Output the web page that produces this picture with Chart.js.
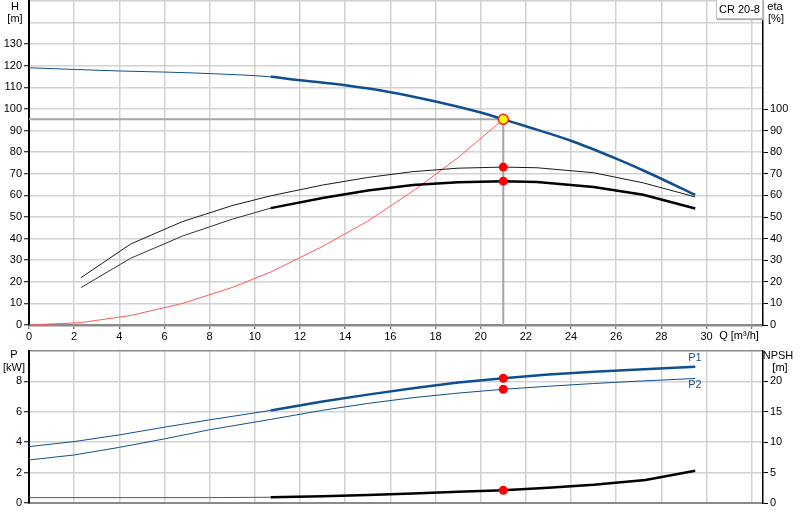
<!DOCTYPE html>
<html>
<head>
<meta charset="utf-8">
<script src="https://cdn.jsdelivr.net/npm/chart.js@4.4.0/dist/chart.umd.min.js"></script>
<style>
  html, body { margin: 0; padding: 0; background: #fff; }
  #wrap { position: relative; width: 800px; height: 520px; overflow: hidden; font-family: "Liberation Sans", Arial, sans-serif; font-size: 11px; color: #000; }
  canvas { position: absolute; left: 0; }
  .lbl { position: absolute; transform: translate(-50%, -50%); white-space: nowrap; line-height: 1; }
  #legend { position: absolute; left: 716px; top: -1px; width: 45px; height: 18px; border: 1px solid #c0c0c0; background: #fff; box-shadow: 1px 1px 1px #b0b0b0; font-size: 11px; line-height: 18px; text-align: center; }
</style>
</head>
<body>
<div id="wrap">
  <canvas id="top" width="800" height="345" style="top:0"></canvas>
  <canvas id="bot" width="800" height="175" style="top:345px"></canvas>
  <div id="legend">CR 20-8</div>
  <div class="lbl" style="left:15px;top:6px">H</div>
  <div class="lbl" style="left:15px;top:18px">[m]</div>
  <div class="lbl" style="left:775px;top:6px">eta</div>
  <div class="lbl" style="left:776px;top:18px">[%]</div>
  <div class="lbl" style="left:739px;top:335px">Q [m³/h]</div>
  <div class="lbl" style="left:14px;top:354px">P</div>
  <div class="lbl" style="left:14px;top:367px">[kW]</div>
  <div class="lbl" style="left:778px;top:355px">NPSH</div>
  <div class="lbl" style="left:780px;top:367px">[m]</div>
  <div class="lbl" style="left:695px;top:357px;color:#1a4f8c">P1</div>
  <div class="lbl" style="left:695px;top:384px;color:#1a4f8c">P2</div>
</div>
<script>
// ---------- data ----------
const Q_H   = [0, 2, 4, 6, 8, 10.7, 12, 14, 16, 18, 20, 21, 22, 24, 26, 27.4, 29.5];
const H     = [119.1, 118.3, 117.6, 117.1, 116.4, 114.9, 113.3, 111.0, 107.8, 103.5, 98.4, 95.2, 92.0, 85.3, 77.0, 70.6, 60.2];

const Q_ETA     = [2.3, 4.5, 6.8, 9.0, 10.7, 13.0, 15.0, 17.0, 19.0, 21.0, 22.5, 25.0, 27.2, 29.5];
const ETA_PUMP  = [21.9, 37.5, 47.9, 55.3, 59.8, 64.8, 68.3, 71.0, 72.6, 73.1, 72.8, 70.5, 65.8, 59.3];
const ETA_TOTAL = [17.3, 30.9, 41.2, 49.0, 54.1, 58.8, 62.3, 64.8, 66.1, 66.6, 66.2, 63.9, 60.3, 53.9];

const Q_SYS = [0, 2.3, 4.5, 6.8, 9.0, 10.7, 13.0, 15.0, 17.0, 19.0, 21.0];
const H_SYS = [0, 1.1, 4.4, 10.0, 17.4, 24.5, 36.4, 48.1, 62.0, 77.5, 95.2];

const Q_P = [0, 2, 4, 6, 8, 10.7, 13, 15, 17, 19, 21, 23, 25, 27, 29.5];
const P1  = [3.71, 4.04, 4.48, 4.99, 5.47, 6.09, 6.68, 7.13, 7.55, 7.92, 8.21, 8.45, 8.63, 8.79, 8.96];
const P2  = [2.83, 3.16, 3.66, 4.22, 4.82, 5.50, 6.10, 6.55, 6.93, 7.23, 7.48, 7.68, 7.86, 8.02, 8.19];

const Q_NPSH = [0, 2, 4, 6, 8, 10.7, 13, 15, 17, 19, 21, 23, 25, 27.3, 29.5];
const NPSH   = [0.88, 0.88, 0.88, 0.88, 0.88, 0.95, 1.1, 1.3, 1.55, 1.85, 2.1, 2.5, 3.0, 3.8, 5.3];

const OP_Q    = [21];
const OP_H    = [95.2];
const OP_ETA  = [73.1, 66.6];
const OP_P    = [8.21, 7.48];
const OP_NPSH = [2.1];
const CROSS_Q = [0, 21, 21];
const CROSS_H = [95.2, 95.2, 0];

const Q_TICKS    = [0, 2, 4, 6, 8, 10, 12, 14, 16, 18, 20, 22, 24, 26, 28, 30, 32];
const Q_LABELS   = ['0','2','4','6','8','10','12','14','16','18','20','22','24','26','28','30',''];
const H_TICKS    = [0, 10, 20, 30, 40, 50, 60, 70, 80, 90, 100, 110, 120, 130, 140, 150];
const H_LABELS   = ['0','10','20','30','40','50','60','70','80','90','100','110','120','130','',''];
const ETA_TICKS  = [0, 10, 20, 30, 40, 50, 60, 70, 80, 90, 100];
const P_TICKS    = [0, 2, 4, 6, 8, 10];
const P_LABELS   = ['0','2','4','6','8',''];
const NPSH_TICKS = [0, 5, 10, 15, 20];

// ---------- helpers ----------
const xy = (xs, ys) => xs.map((x, i) => ({ x: x, y: ys[i] }));
const setTicks = (vals) => (s) => { s.ticks = vals.map(v => ({ value: v })); };
const fitY = (w) => (s) => { s.width = w; s.paddingTop = 0; s.paddingBottom = 0; };
const fitX = (h) => (s) => { s.height = h; s.paddingLeft = 0; s.paddingRight = 0; };
const BLUE = '#0f4f8f';
const GRID = '#d2d2d2';
const REC = 10.7;
const thickFrom = (thin, thick) => (ctx) => (ctx.p0.parsed.x >= REC - 1e-6 ? thick : thin);

Chart.defaults.font.family = '"Liberation Sans", Arial, sans-serif';
Chart.defaults.font.size = 11;
Chart.defaults.color = '#000';

const commonPlugins = { legend: { display: false }, tooltip: { enabled: false } };

const lineDs = (data, extra) => Object.assign({
  type: 'line', data: data, showLine: true, pointRadius: 0, fill: false,
  tension: 0, clip: false
}, extra);
const dotDs = (data, extra) => Object.assign({
  type: 'scatter', data: data, showLine: false, pointRadius: 4.5, pointHoverRadius: 4.5,
  pointBackgroundColor: '#ff0000', pointBorderWidth: 0, order: 0, clip: false
}, extra);

// ---------- top chart ----------
new Chart(document.getElementById('top'), {
  type: 'scatter',
  data: {
    datasets: [
      dotDs([{ x: OP_Q[0], y: OP_H[0] }], { pointRadius: 5, pointHoverRadius: 5, pointBackgroundColor: '#ffff00', pointBorderColor: '#ff2020', pointBorderWidth: 1.5, order: 0 }),
      dotDs(OP_ETA.map(v => ({ x: OP_Q[0], y: v })), { order: 0 }),
      lineDs(xy(Q_H, H), { borderColor: BLUE, order: 2, cubicInterpolationMode: 'monotone', segment: { borderWidth: thickFrom(1, 2.5) } }),
      lineDs(xy(Q_ETA, ETA_PUMP), { borderColor: '#1a1a1a', borderWidth: 1, order: 3 }),
      lineDs(xy(Q_ETA, ETA_TOTAL), { borderColor: '#000', order: 3, segment: { borderWidth: thickFrom(1, 2.5), borderColor: thickFrom('#333', '#000') } }),
      lineDs(xy(Q_SYS, H_SYS), { borderColor: '#ff5a5a', borderWidth: 1, order: 4 }),
      lineDs(xy(CROSS_Q, CROSS_H), { borderColor: '#a6a6a6', borderWidth: 2, order: 9 })
    ]
  },
  options: {
    responsive: false, animation: false, events: [],
    layout: { autoPadding: false, padding: { top: 1, left: 0, right: 0, bottom: 0 } },
    plugins: commonPlugins,
    scales: {
      x: {
        type: 'linear', position: 'bottom', min: 0, max: 32.5,
        afterBuildTicks: setTicks(Q_TICKS),
        afterFit: fitX(20),
        ticks: { callback: (v, i) => Q_LABELS[i], maxRotation: 0, autoSkip: false, padding: 1 },
        grid: { color: GRID, lineWidth: 1.5, tickLength: 4, tickColor: '#444', tickWidth: 1 },
        border: { color: '#8a8a8a', width: 2.5 }
      },
      y: {
        type: 'linear', position: 'left', min: 0, max: 150,
        afterBuildTicks: setTicks(H_TICKS),
        afterFit: fitY(29),
        ticks: { callback: (v, i) => H_LABELS[i], autoSkip: false, padding: 2 },
        grid: { color: GRID, lineWidth: 1.5, tickLength: 5, tickWidth: 1,
                tickColor: (c) => (c.tick && c.tick.value > 130 ? 'rgba(0,0,0,0)' : '#000') },
        border: { color: '#000', width: 2 }
      },
      yEta: {
        type: 'linear', position: 'right', min: 0, max: 150,
        afterBuildTicks: setTicks(ETA_TICKS),
        afterFit: fitY(37),
        ticks: { autoSkip: false, padding: 2 },
        grid: { drawOnChartArea: false, tickLength: 5, tickColor: '#000', tickWidth: 1 },
        border: { color: '#000', width: 1.5 }
      }
    }
  }
});

// ---------- bottom chart ----------
new Chart(document.getElementById('bot'), {
  type: 'scatter',
  data: {
    datasets: [
      dotDs(OP_P.map(v => ({ x: OP_Q[0], y: v })), { yAxisID: 'y' }),
      dotDs([{ x: OP_Q[0], y: OP_NPSH[0] }], { yAxisID: 'yN' }),
      lineDs(xy(Q_P, P1), { yAxisID: 'y', borderColor: BLUE, order: 2, segment: { borderWidth: thickFrom(1, 2.5) } }),
      lineDs(xy(Q_P, P2), { yAxisID: 'y', borderColor: BLUE, borderWidth: 1, order: 2 }),
      lineDs(xy(Q_NPSH, NPSH), { yAxisID: 'yN', order: 3, segment: { borderWidth: thickFrom(1, 2.5), borderColor: thickFrom('#555', '#000') } })
    ]
  },
  options: {
    responsive: false, animation: false, events: [],
    layout: { autoPadding: false, padding: { top: 6, left: 0, right: 0, bottom: 0 } },
    plugins: commonPlugins,
    scales: {
      x: {
        type: 'linear', position: 'bottom', min: 0, max: 32.5,
        afterBuildTicks: setTicks(Q_TICKS),
        afterFit: fitX(17),
        ticks: { display: false },
        grid: { color: GRID, lineWidth: 1.5, drawTicks: false },
        border: { color: '#8a8a8a', width: 2 }
      },
      y: {
        type: 'linear', position: 'left', min: 0, max: 10,
        afterBuildTicks: setTicks(P_TICKS),
        afterFit: fitY(29),
        ticks: { callback: (v, i) => P_LABELS[i], autoSkip: false, padding: 2 },
        grid: { lineWidth: 1.5, tickLength: 5, tickWidth: 1,
                color: (c) => (c.tick && c.tick.value >= 10 ? '#8a8a8a' : GRID),
                tickColor: (c) => (c.tick && c.tick.value >= 10 ? 'rgba(0,0,0,0)' : '#000') },
        border: { color: '#000', width: 2 }
      },
      yN: {
        type: 'linear', position: 'right', min: 0, max: 25,
        afterBuildTicks: setTicks(NPSH_TICKS),
        afterFit: fitY(37),
        ticks: { autoSkip: false, padding: 2 },
        grid: { drawOnChartArea: false, tickLength: 5, tickColor: '#000', tickWidth: 1 },
        border: { color: '#000', width: 1.5 }
      }
    }
  }
});
</script>
</body>
</html>
